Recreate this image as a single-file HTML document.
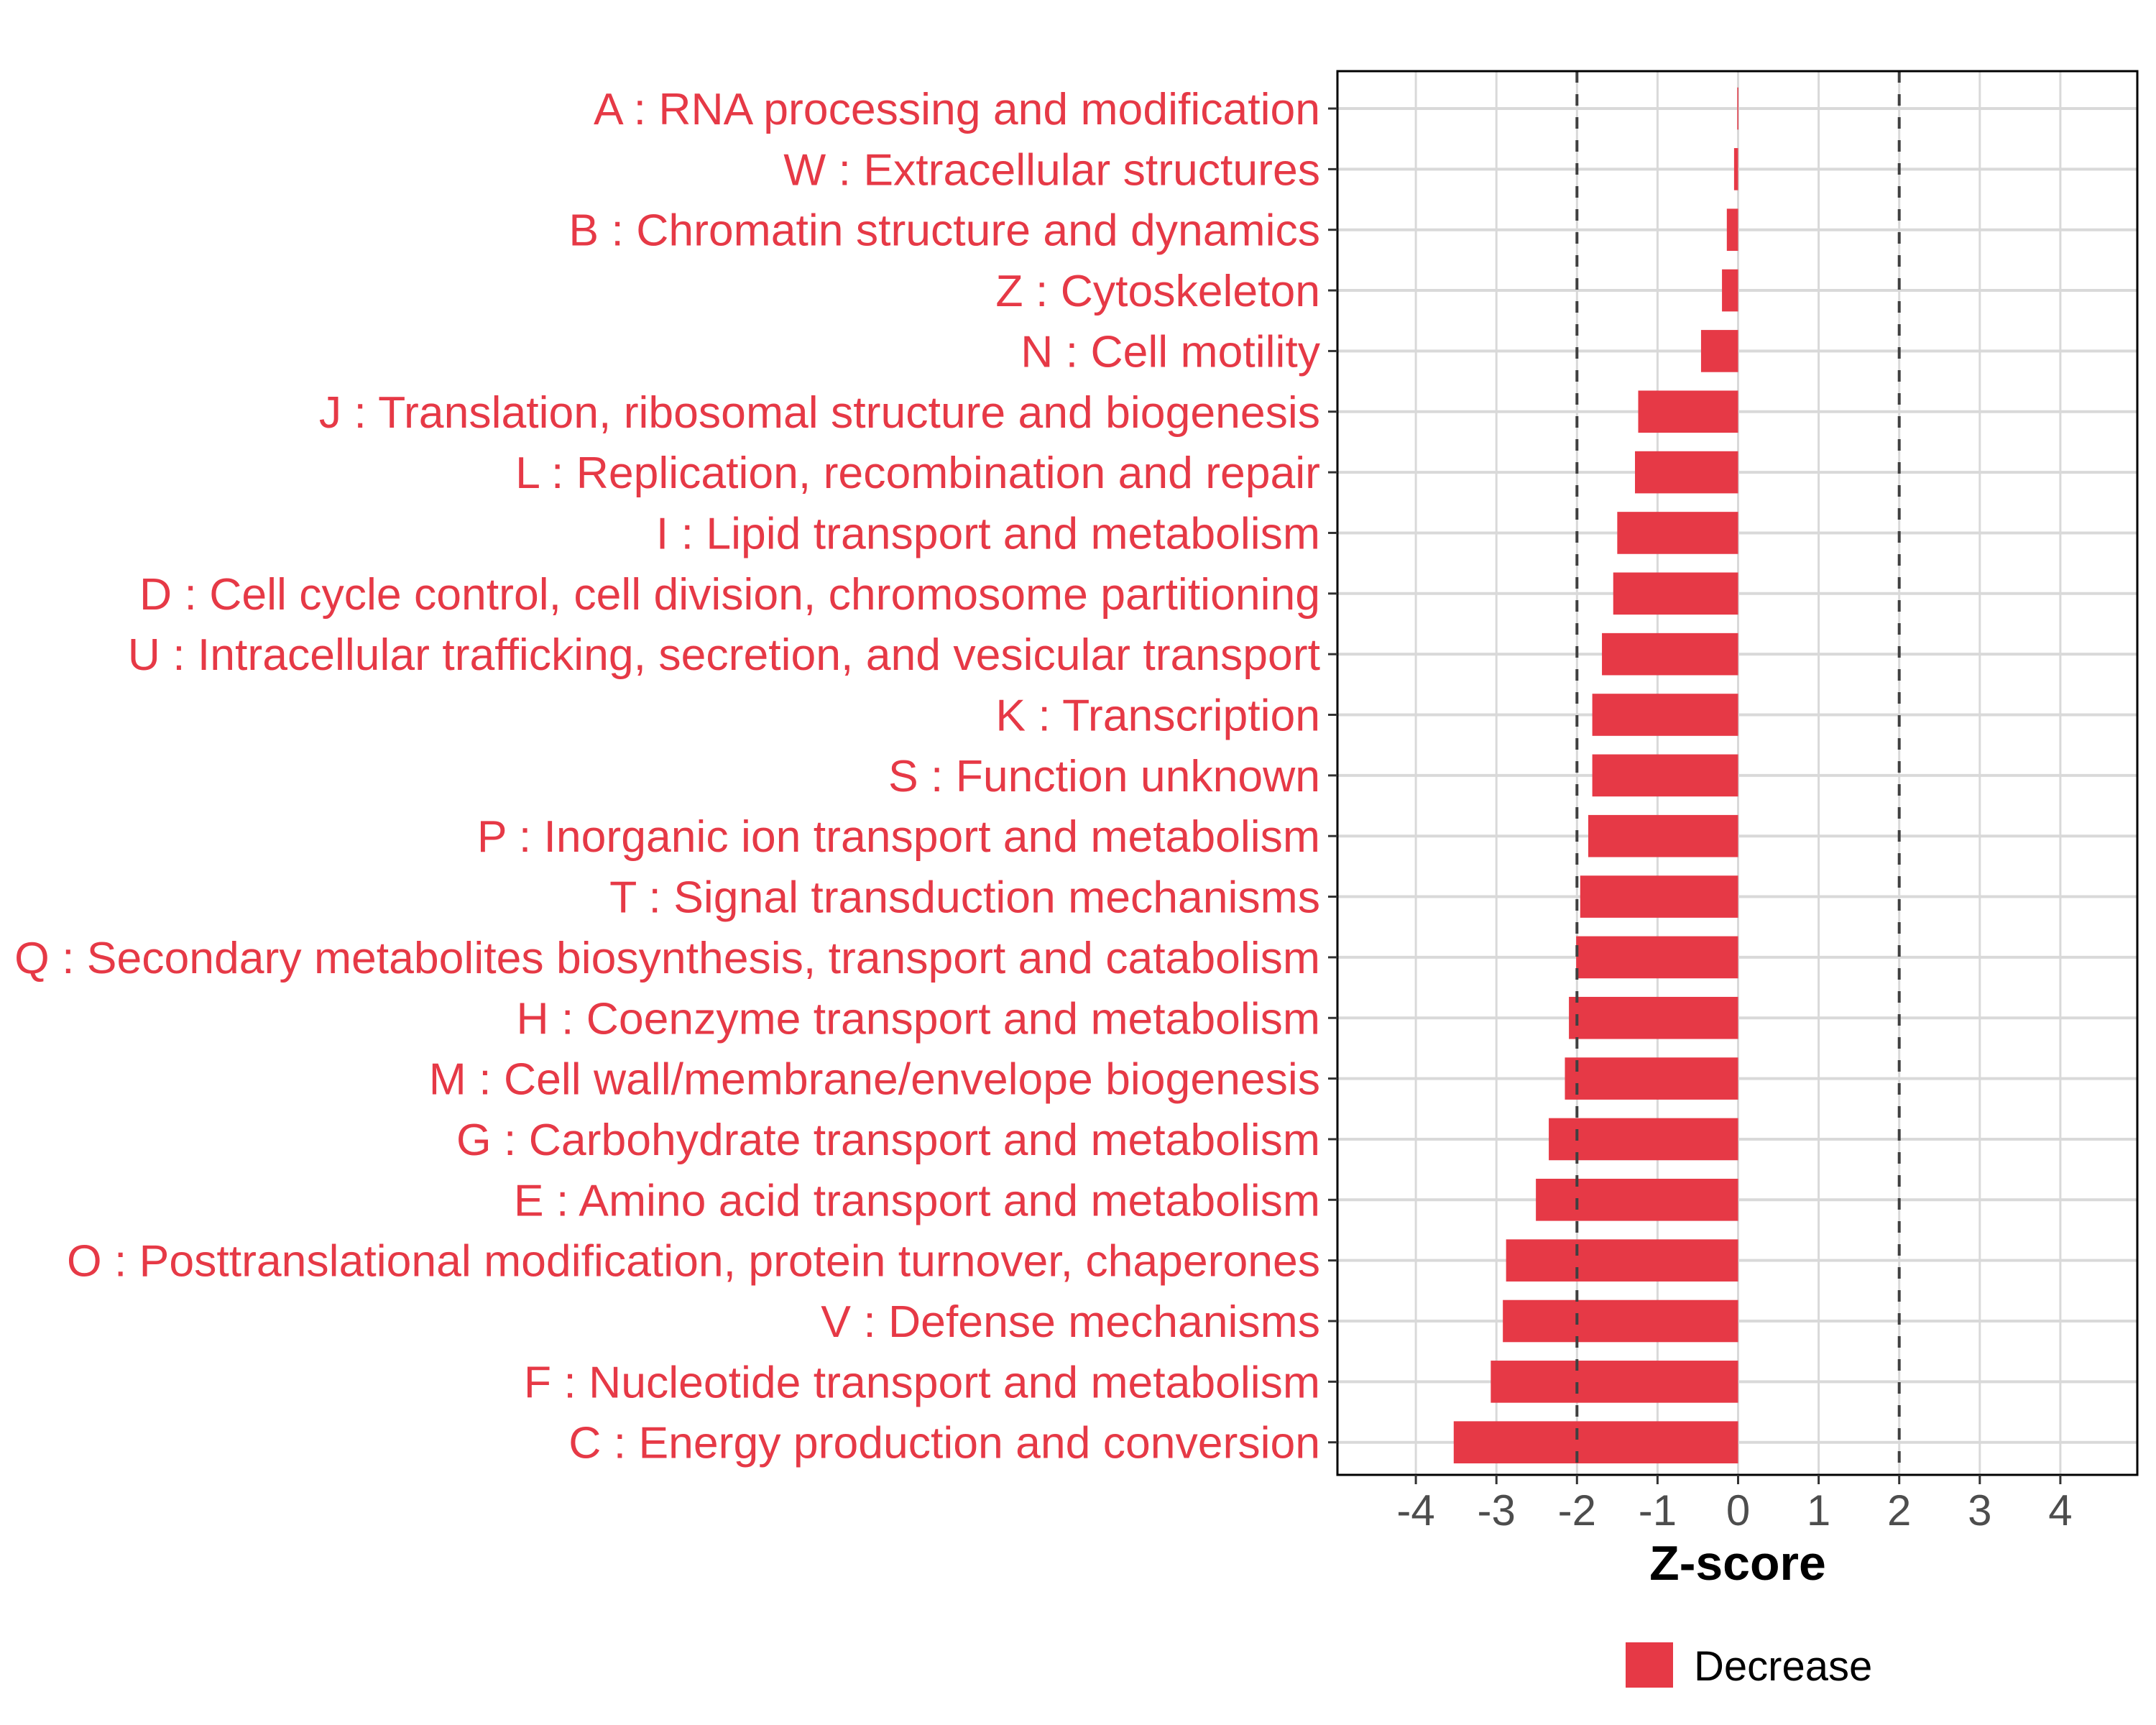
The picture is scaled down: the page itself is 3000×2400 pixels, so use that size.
<!DOCTYPE html>
<html><head><meta charset="utf-8"><style>
html,body{margin:0;padding:0;background:#fff;}
svg{display:block;font-family:"Liberation Sans",Arial,sans-serif;}
</style></head><body>
<svg id="chart" width="3000" height="2400" viewBox="0 0 3000 2400" xmlns="http://www.w3.org/2000/svg">
<rect x="0" y="0" width="3000" height="2400" fill="#fff"/>
<g id="grid"></g>
<g id="bars"></g>
<g id="refs"></g>
<rect x="1861" y="99" width="1113" height="1953" fill="none" stroke="#000" stroke-width="3"/>
<g id="ylabels"></g>
<g id="xticks"></g>
<text x="2418" y="2198" font-size="68" font-weight="bold" text-anchor="middle" fill="#000">Z-score</text>
<g>
<rect x="2262" y="2285" width="66" height="63" fill="#e63946"/>
<text x="2357" y="2338" font-size="58" fill="#000">Decrease</text>
</g>
</svg>
<script>
const categories = ["A : RNA processing and modification","W : Extracellular structures","B : Chromatin structure and dynamics","Z : Cytoskeleton","N : Cell motility","J : Translation, ribosomal structure and biogenesis","L : Replication, recombination and repair","I : Lipid transport and metabolism","D : Cell cycle control, cell division, chromosome partitioning","U : Intracellular trafficking, secretion, and vesicular transport","K : Transcription","S : Function unknown","P : Inorganic ion transport and metabolism","T : Signal transduction mechanisms","Q : Secondary metabolites biosynthesis, transport and catabolism","H : Coenzyme transport and metabolism","M : Cell wall/membrane/envelope biogenesis","G : Carbohydrate transport and metabolism","E : Amino acid transport and metabolism","O : Posttranslational modification, protein turnover, chaperones","V : Defense mechanisms","F : Nucleotide transport and metabolism","C : Energy production and conversion"];
const zscores = [-0.01,-0.05,-0.14,-0.2,-0.46,-1.24,-1.28,-1.5,-1.55,-1.69,-1.81,-1.81,-1.86,-1.96,-2.01,-2.1,-2.15,-2.35,-2.51,-2.88,-2.92,-3.07,-3.53];
const xTicks = [-4,-3,-2,-1,0,1,2,3,4];
const thresholds = [-2,2];

const NS='http://www.w3.org/2000/svg';
const x0=2418.5, unit=112.1, rowTop=151, rowStep=84.35, barH=58.6;
const panelL=1861, panelR=2974, panelT=99, panelB=2052;
function xs(v){return x0+v*unit;}
function ys(i){return rowTop+i*rowStep;}
function mk(tag,attrs,parent){const e=document.createElementNS(NS,tag);for(const k in attrs)e.setAttribute(k,attrs[k]);parent.appendChild(e);return e;}
const grid=document.getElementById('grid'),bars=document.getElementById('bars'),refs=document.getElementById('refs'),yl=document.getElementById('ylabels'),xt=document.getElementById('xticks');
xTicks.forEach(t=>{
  const l=mk('line',{x1:xs(t),x2:xs(t),y1:panelT,y2:panelB,stroke:'#d9d9d9','stroke-width':3},grid);
  
  
  const tk=mk('line',{x1:xs(t),x2:xs(t),y1:panelB,y2:panelB+13,stroke:'#333','stroke-width':3},xt);
  
  
  const tx=mk('text',{x:xs(t),y:2122,'font-size':60,'text-anchor':'middle',fill:'#4d4d4d'},xt);
  tx.textContent=String(t);
  
  
});
categories.forEach((c,i)=>{
  const y=ys(i);
  const g=mk('line',{x1:panelL,x2:panelR,y1:y,y2:y,stroke:'#d9d9d9','stroke-width':4},grid);
  
  
  const v=zscores[i];
  const b=mk('rect',{x:Math.min(xs(v),x0),y:y-barH/2,width:Math.max(Math.abs(xs(v)-x0),1.5),height:barH,fill:'#e63946'},bars);
  
  
  const tk=mk('line',{x1:panelL-13,x2:panelL,y1:y,y2:y,stroke:'#333','stroke-width':3},yl);
  
  
  const t=mk('text',{x:1837,y:y+22,'font-size':62.5,'text-anchor':'end',fill:'#e63946'},yl);
  t.textContent=c;
  
  
});
thresholds.forEach(v=>{
  const l=mk('line',{x1:xs(v),x2:xs(v),y1:panelT,y2:panelB,stroke:'#404040','stroke-width':4,'stroke-dasharray':'16 16'},refs);
  
  
});
</script>
</body></html>
